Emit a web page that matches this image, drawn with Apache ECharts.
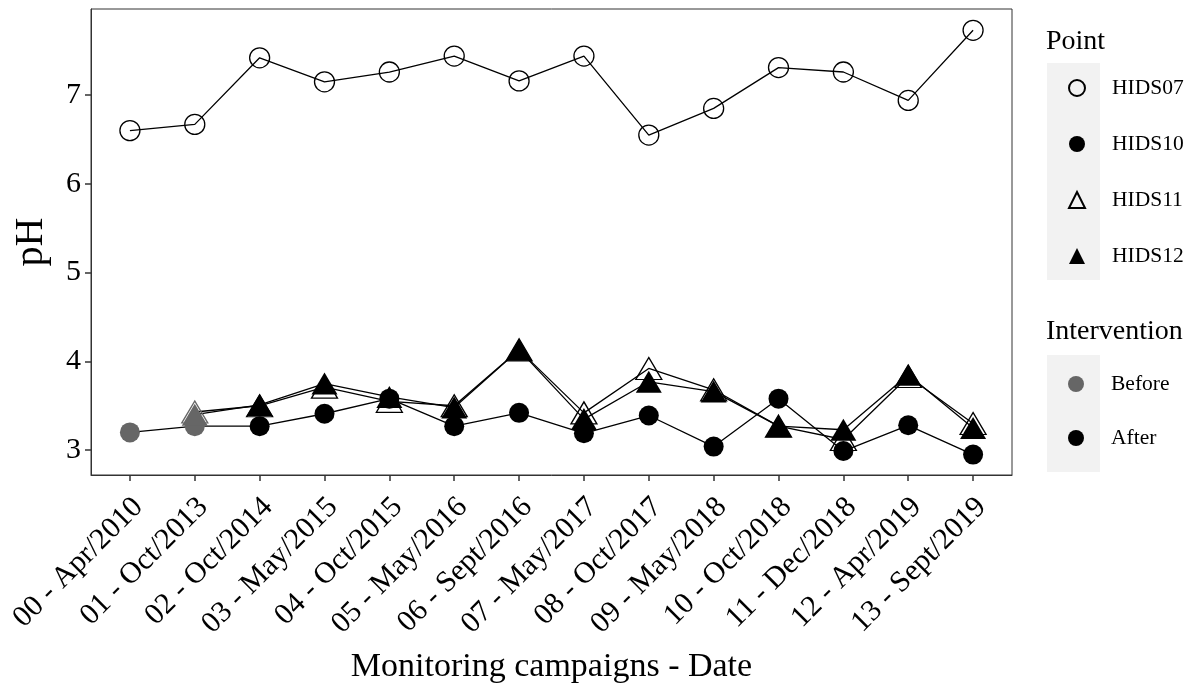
<!DOCTYPE html>
<html>
<head>
<meta charset="utf-8">
<script src="https://cdn.jsdelivr.net/npm/echarts@6/dist/echarts.min.js"></script>
<style>
html,body{margin:0;padding:0;background:#fff;}
#chart{width:1197px;height:689px;}
</style>
</head>
<body>
<div id="chart"></div>
<script>
const campaigns = ['00 - Apr/2010','01 - Oct/2013','02 - Oct/2014','03 - May/2015','04 - Oct/2015','05 - May/2016','06 - Sept/2016','07 - May/2017','08 - Oct/2017','09 - May/2018','10 - Oct/2018','11 - Dec/2018','12 - Apr/2019','13 - Sept/2019'];
const yTicks = [3, 4, 5, 6, 7];
const HIDS07 = [6.60, 6.67, 7.42, 7.15, 7.26, 7.44, 7.16, 7.44, 6.55, 6.85, 7.31, 7.26, 6.94, 7.73];
const HIDS10 = [3.20, 3.27, 3.27, 3.41, 3.58, 3.27, 3.42, 3.19, 3.39, 3.04, 3.58, 2.99, 3.28, 2.95];
const HIDS11 = [null, 3.43, 3.50, 3.71, 3.55, 3.50, 4.13, 3.42, 3.92, 3.68, 3.27, 3.12, 3.83, 3.30];
const HIDS12 = [null, 3.40, 3.51, 3.75, 3.60, 3.48, 4.13, 3.35, 3.77, 3.66, 3.27, 3.23, 3.85, 3.25];
const int07 = ['After','After','After','After','After','After','After','After','After','After','After','After','After','After'];
const int10 = ['Before','Before','After','After','After','After','After','After','After','After','After','After','After','After'];
const int11 = [null,'Before','After','After','After','After','After','After','After','After','After','After','After','After'];
const int12 = [null,'Before','After','After','After','After','After','After','After','After','After','After','After','After'];
const pointNames = ['HIDS07','HIDS10','HIDS11','HIDS12'];
const interventionNames = ['Before','After'];

const FONT = "'Liberation Serif', 'Times New Roman', 'DejaVu Serif', serif";
const interColor = {Before: '#666666', After: '#000000'};

const seriesDefs = [
  {name: 'HIDS07', values: HIDS07, inter: int07, symbol: 'circle', size: 20, open: true},
  {name: 'HIDS10', values: HIDS10, inter: int10, symbol: 'circle', size: 20, open: false},
  {name: 'HIDS11', values: HIDS11, inter: int11, symbol: 'triangle', size: [26, 22], open: true},
  {name: 'HIDS12', values: HIDS12, inter: int12, symbol: 'triangle', size: [26, 22], open: false}
];

const series = [];
seriesDefs.forEach(d => {
  series.push({
    name: d.name + ' line',
    type: 'line',
    data: d.values.map((v, i) => v == null ? null : [i, v]).filter(p => p),
    showSymbol: false,
    symbol: 'none',
    lineStyle: {color: '#000', width: 1.3},
    z: 2,
    silent: true,
    animation: false
  });
});
seriesDefs.forEach(d => {
  const data = [];
  d.values.forEach((v, i) => {
    if (v == null) return;
    const c = interColor[d.inter[i]];
    data.push({
      value: [i, v],
      itemStyle: d.open ? {color: 'rgba(0,0,0,0)', borderColor: c, borderWidth: 1.3, opacity: 1}
                        : {color: c, borderWidth: 0, opacity: 1}
    });
  });
  series.push({
    name: d.name,
    type: 'scatter',
    symbol: d.symbol,
    symbolSize: d.size,
    data: data,
    itemStyle: d.open ? {color: 'rgba(0,0,0,0)', borderColor: '#000', borderWidth: 1.3, opacity: 1}
                      : {color: '#000', borderWidth: 0, opacity: 1},
    z: 3,
    animation: false
  });
});
interventionNames.forEach(n => {
  series.push({
    name: n, type: 'scatter', symbol: 'circle', data: [],
    itemStyle: {color: interColor[n], opacity: 1}
  });
});

const chart = echarts.init(document.getElementById('chart'), null, {renderer: 'canvas'});
chart.setOption({
  backgroundColor: '#fff',
  animation: false,
  textStyle: {fontFamily: FONT},
  title: [
    {text: 'Point', left: 1046, top: 28, padding: 0, textStyle: {fontFamily: FONT, fontSize: 28, fontWeight: 'normal', color: '#000'}},
    {text: 'Intervention', left: 1046, top: 318, padding: 0, textStyle: {fontFamily: FONT, fontSize: 28, fontWeight: 'normal', color: '#000'}}
  ],
  graphic: [
    {type: 'rect', shape: {x: 1047, y: 63, width: 53, height: 217}, style: {fill: '#F2F2F2'}, z: -10, silent: true},
    {type: 'rect', shape: {x: 1047, y: 355, width: 53, height: 117}, style: {fill: '#F2F2F2'}, z: -10, silent: true}
  ],
  legend: [
    {
      data: pointNames.map((n, i) => ({name: n, icon: seriesDefs[i].symbol})),
      orient: 'vertical', left: 1063, top: 72,
      itemWidth: 16, itemHeight: 16, itemGap: 34,
      selectedMode: false,
      textStyle: {fontFamily: FONT, fontSize: 21.5, color: '#000', lineHeight: 22, padding: [0, 0, 0, 22]},
      z: 5
    },
    {
      data: interventionNames.map(n => ({name: n, icon: 'circle'})),
      orient: 'vertical', left: 1063, top: 368,
      itemWidth: 16, itemHeight: 16, itemGap: 32,
      selectedMode: false,
      textStyle: {fontFamily: FONT, fontSize: 21.5, color: '#000', lineHeight: 22, padding: [0, 0, 0, 22]},
      z: 5
    }
  ],
  grid: {left: 91, right: 185, top: 9, bottom: 212, show: true, borderColor: '#333', borderWidth: 1, backgroundColor: 'transparent'},
  xAxis: {
    type: 'value', min: -0.6, max: 13.6,
    name: 'Monitoring campaigns - Date', nameLocation: 'middle', nameGap: 175,
    nameTextStyle: {fontFamily: FONT, fontSize: 34, color: '#000'},
    axisLine: {show: true, onZero: false, lineStyle: {color: '#333', width: 1}},
    axisTick: {show: true, length: 6, lineStyle: {color: '#333', width: 1.5}, customValues: campaigns.map((c, i) => i)},
    axisLabel: {
      customValues: campaigns.map((c, i) => i),
      formatter: v => campaigns[Math.round(v)],
      rotate: 45, align: 'right', verticalAlign: 'top',
      padding: [-3, 0, 0, 0], margin: 19,
      fontFamily: FONT, fontSize: 30, color: '#000'
    },
    splitLine: {show: false}
  },
  yAxis: {
    type: 'value', min: 2.72, max: 7.97,
    name: 'pH', nameLocation: 'middle', nameGap: 40,
    nameTextStyle: {fontFamily: FONT, fontSize: 40, color: '#000'},
    axisLine: {show: true, onZero: false, lineStyle: {color: '#333', width: 1}},
    axisTick: {show: true, length: 6, lineStyle: {color: '#333', width: 1.5}, customValues: yTicks},
    axisLabel: {customValues: yTicks, margin: 10, fontFamily: FONT, fontSize: 30, color: '#000'},
    splitLine: {show: false}
  },
  series: series
});
</script>
</body>
</html>
